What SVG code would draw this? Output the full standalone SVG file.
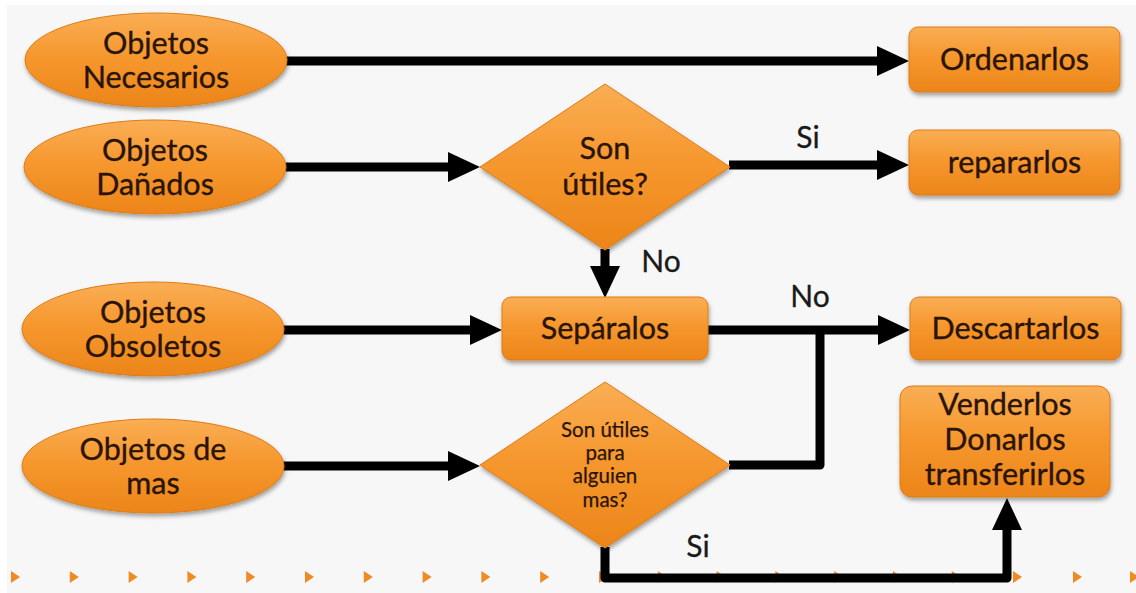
<svg xmlns="http://www.w3.org/2000/svg" width="1136" height="593" viewBox="0 0 1136 593">
<defs>
  <linearGradient id="og" x1="0" y1="0" x2="0" y2="1">
    <stop offset="0" stop-color="#FAAE55"/>
    <stop offset="0.45" stop-color="#F6982F"/>
    <stop offset="1" stop-color="#EC8519"/>
  </linearGradient>
  <filter id="sh" x="-10%" y="-10%" width="120%" height="130%">
    <feDropShadow dx="1" dy="3" stdDeviation="2" flood-color="#000" flood-opacity="0.35"/>
  </filter>
  <marker id="ah" markerUnits="userSpaceOnUse" markerWidth="32" markerHeight="30" refX="0" refY="15" orient="auto" viewBox="0 0 32 30">
    <path d="M0,0 L32,15 L0,30 z" fill="#000"/>
  </marker>
  <path id="tri" d="M-4,-6 L5,0 L-4,6 z" fill="#F08A24"/>
  <style>
    .shape{fill:url(#og);stroke:#DD7C15;stroke-width:1;filter:url(#sh)}
    .t{font-family:"Lato","Open Sans",sans-serif;font-size:30.5px;fill:#2A1406;stroke:#2A1406;stroke-width:0.35;text-anchor:middle}
    .ts{font-family:"Lato","Open Sans",sans-serif;font-size:20.5px;fill:#2A1406;stroke:#2A1406;stroke-width:0.25;text-anchor:middle}
    .lbl{font-family:"Lato","Open Sans",sans-serif;font-size:30px;fill:#1a1a1a;stroke:#1a1a1a;stroke-width:0.3;text-anchor:middle}
    .c{fill:none;stroke:#000;stroke-width:9;stroke-linejoin:round;stroke-linecap:butt}
  </style>
</defs>
<rect x="0" y="0" width="1136" height="593" fill="#ffffff"/>
<rect x="7" y="5" width="1129" height="588" fill="#F7F7F7"/>

<g id="decor">
  <use href="#tri" x="15" y="577"/>
  <use href="#tri" x="73.8" y="577"/>
  <use href="#tri" x="132.6" y="577"/>
  <use href="#tri" x="191.4" y="577"/>
  <use href="#tri" x="250.2" y="577"/>
  <use href="#tri" x="309" y="577"/>
  <use href="#tri" x="367.8" y="577"/>
  <use href="#tri" x="426.6" y="577"/>
  <use href="#tri" x="485.4" y="577"/>
  <use href="#tri" x="544.2" y="577"/>
  <use href="#tri" x="603" y="577"/>
  <use href="#tri" x="661.8" y="577"/>
  <use href="#tri" x="720.6" y="577"/>
  <use href="#tri" x="779.4" y="577"/>
  <use href="#tri" x="838.2" y="577"/>
  <use href="#tri" x="897" y="577"/>
  <use href="#tri" x="955.8" y="577"/>
  <use href="#tri" x="1017" y="577"/>
  <use href="#tri" x="1077" y="577"/>
  <use href="#tri" x="1134" y="577"/>
</g>

<g id="connectors">
  <path class="c" d="M286,61 H877" marker-end="url(#ah)"/>
  <path class="c" d="M284,167 H448" marker-end="url(#ah)"/>
  <path class="c" d="M729,165 H877" marker-end="url(#ah)"/>
  <path class="c" d="M605,249 V266" marker-end="url(#ah)"/>
  <path class="c" d="M282,330 H470" marker-end="url(#ah)"/>
  <path class="c" d="M708,330 H878" marker-end="url(#ah)"/>
  <path class="c" d="M729,465 H820 V326"/>
  <path class="c" d="M283,466 H448" marker-end="url(#ah)"/>
  <path class="c" d="M605,547 V578 H1007 V530" marker-end="url(#ah)"/>
  <text class="lbl" x="808" y="148">Si</text>
  <text class="lbl" x="661" y="272">No</text>
  <text class="lbl" x="810" y="307">No</text>
  <text class="lbl" x="698" y="557">Si</text>
</g>

<g id="n-necesarios">
  <ellipse class="shape" cx="156" cy="60" rx="131" ry="47"/>
  <text class="t" x="156" y="54">Objetos</text>
  <text class="t" x="156" y="88">Necesarios</text>
</g>
<g id="n-danados">
  <ellipse class="shape" cx="155" cy="167" rx="131" ry="47"/>
  <text class="t" x="155" y="161">Objetos</text>
  <text class="t" x="155" y="195">Dañados</text>
</g>
<g id="n-obsoletos">
  <ellipse class="shape" cx="153" cy="329" rx="131" ry="47"/>
  <text class="t" x="153" y="323">Objetos</text>
  <text class="t" x="153" y="357">Obsoletos</text>
</g>
<g id="n-demas">
  <ellipse class="shape" cx="153" cy="466" rx="131" ry="47"/>
  <text class="t" x="153" y="460">Objetos de</text>
  <text class="t" x="153" y="494">mas</text>
</g>

<g id="d-utiles">
  <polygon class="shape" points="605,84 730,167 605,250 480,167"/>
  <text class="t" x="605" y="159">Son</text>
  <text class="t" x="605" y="195">útiles?</text>
</g>
<g id="d-alguien">
  <polygon class="shape" points="605,382 730,465 605,548 480,465"/>
  <text class="ts" x="605" y="437">Son útiles</text>
  <text class="ts" x="605" y="460">para</text>
  <text class="ts" x="605" y="483">alguien</text>
  <text class="ts" x="605" y="507">mas?</text>
</g>

<g id="b-ordenarlos">
  <rect class="shape" x="909" y="27" width="211" height="65" rx="9"/>
  <text class="t" x="1014.5" y="70">Ordenarlos</text>
</g>
<g id="b-repararlos">
  <rect class="shape" x="909" y="130" width="211" height="65" rx="9"/>
  <text class="t" x="1014.5" y="173">repararlos</text>
</g>
<g id="b-separalos">
  <rect class="shape" x="502" y="297" width="206" height="63" rx="9"/>
  <text class="t" x="605" y="339">Sepáralos</text>
</g>
<g id="b-descartarlos">
  <rect class="shape" x="910" y="297" width="211" height="63" rx="9"/>
  <text class="t" x="1015.5" y="339">Descartarlos</text>
</g>
<g id="b-venderlos">
  <rect class="shape" x="900" y="386" width="210" height="111" rx="12"/>
  <text class="t" x="1005" y="415">Venderlos</text>
  <text class="t" x="1005" y="450">Donarlos</text>
  <text class="t" x="1005" y="485">transferirlos</text>
</g>
</svg>
